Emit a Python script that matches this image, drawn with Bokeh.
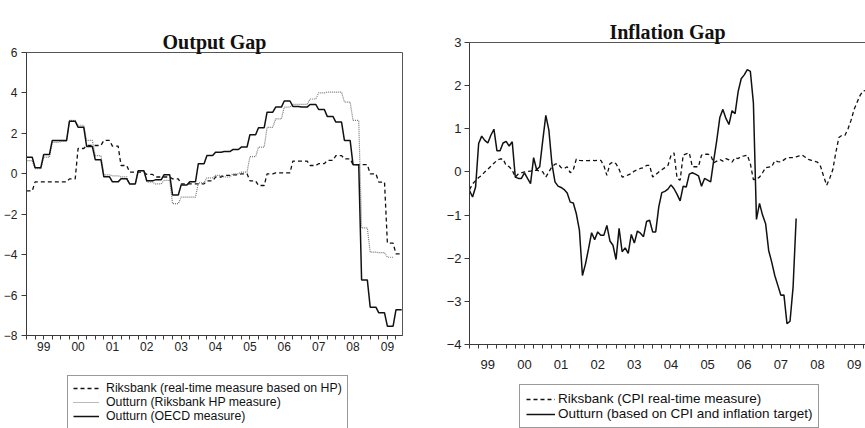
from bokeh.plotting import figure
from bokeh.models import FixedTicker, Legend, LegendItem, LinearAxis, Range1d, Title
from bokeh.layouts import row, column
from bokeh.embed import file_html
from bokeh.resources import INLINE

# ---------------- data ----------------
years = list(range(1999, 2010))
year_labels = ["99", "00", "01", "02", "03", "04", "05", "06", "07", "08", "09"]

# Output gap, quarterly values from 1999Q1 (monthly observations, constant within quarter)
og_start = 1999
og_riksbank_rt = [-0.85, -0.4, -0.4, -0.4, -0.4, -0.25, 1.25, 1.4, 1.4, 1.65, 1.37, 0.41,
                  0.08, 0.08, -0.03, -0.16, -0.16, -0.25, -0.5, -0.5, -0.5, -0.35, -0.16, -0.08,
                  -0.05, 0.0, -0.35, -0.58, 0.0, 0.05, 0.05, 0.63, 0.63, 0.41, 0.5, 0.66,
                  0.9, 0.74, 0.45, 0.45, 0.0, -0.41, -3.43, -3.96]
og_riksbank_hp = [0.65, 0.25, 0.82, 1.55, 1.6, 2.64, 2.4, 1.65, 0.9, -0.05, -0.1, -0.15,
                  -0.5, 0.16, -0.41, -0.5, -0.33, -1.48, -1.15, -1.15, -0.45, -0.2, -0.08, -0.16,
                  0.0, 0.08, 0.85, 1.32, 2.3, 2.72, 3.3, 3.43, 3.43, 3.7, 4.0, 4.04,
                  4.04, 3.55, 2.64, -2.68, -3.88, -3.9, -4.13]
og_oecd = [0.82, 0.3, 0.95, 1.65, 1.65, 2.6, 2.3, 1.35, 0.7, -0.15, -0.4, -0.25,
           -0.5, 0.15, -0.35, -0.3, -0.05, -1.05, -0.55, -0.4, 0.5, 0.9, 1.07, 1.1,
           1.2, 1.32, 1.93, 2.28, 3.05, 3.3, 3.6, 3.33, 3.3, 3.43, 3.18, 2.84,
           2.56, 1.65, 0.45, -5.25, -6.6, -6.88, -7.54, -6.73]

# Inflation gap, monthly values from 1999M1
inf_start = 1999
inf_riksbank_cpi = [-0.41, -0.28, -0.2, -0.13, -0.08, 0.0, 0.06, 0.13, 0.2, 0.27, 0.3, 0.3,
                    0.15, 0.12, 0.04, -0.12, -0.05, -0.02, 0.0, 0.01, 0.02, 0.03, 0.04, 0.02,
                    0.0, -0.12, 0.0, 0.12, 0.18, 0.19, 0.1, 0.08, 0.12, -0.02, 0.05, 0.3,
                    0.27, 0.26, 0.26, 0.26, 0.27, 0.26, 0.27, 0.27, 0.15, -0.08, 0.19, 0.23,
                    0.19, 0.06, -0.12, -0.1, -0.07, -0.04, 0.02, 0.05, 0.08, 0.1, 0.15, 0.15,
                    -0.12, -0.06, 0.0, 0.05, 0.1, 0.15, 0.38, 0.44, -0.15, -0.19, 0.39, 0.42,
                    0.44, 0.12, 0.12, 0.12, 0.39, 0.41, 0.41, 0.39, 0.21, 0.25, 0.29, 0.25,
                    0.31, 0.28, 0.23, 0.33, 0.31, 0.36, 0.37, 0.39, 0.19, -0.18, -0.17, -0.12,
                    -0.02, 0.1, 0.11, 0.12, 0.26, 0.24, 0.23, 0.28, 0.33, 0.33, 0.33, 0.35,
                    0.37, 0.39, 0.34, 0.29, 0.27, 0.25, 0.23, 0.13, -0.1, -0.31, -0.15, 0.05,
                    0.45, 0.8, 0.85, 0.85, 1.0, 1.2, 1.45, 1.62, 1.78, 1.88, 1.89]
inf_outturn = [-0.43, -0.58, -0.35, 0.66, 0.83, 0.73, 0.67, 0.85, 0.99, 0.49, 0.49, 0.67,
               0.71, 0.6, 0.7, -0.12, -0.15, -0.15, -0.02, -0.15, -0.27, 0.33, 0.05, 0.12,
               0.73, 1.31, 0.97, 0.19, -0.23, -0.33, -0.36, -0.41, -0.49, -0.7, -0.72, -0.97,
               -1.35, -2.4, -2.13, -1.78, -1.41, -1.57, -1.39, -1.47, -1.47, -1.24, -1.6, -1.7,
               -2.03, -1.31, -1.85, -1.76, -1.89, -1.45, -1.65, -1.37, -1.42, -1.5, -1.15, -1.12,
               -1.39, -1.39, -0.81, -0.48, -0.45, -0.4, -0.3, -0.39, -0.52, -0.67, -0.33, -0.35,
               -0.05, -0.02, -0.05, -0.09, -0.33, -0.15, -0.19, -0.23, 0.27, 0.73, 1.26, 1.45,
               1.24, 1.1, 1.42, 1.35, 1.86, 2.16, 2.25, 2.37, 2.33, 1.6, -1.1, -0.73,
               -1.0, -1.2, -1.82, -2.09, -2.4, -2.63, -2.86, -2.85, -3.52, -3.46, -2.67, -1.08]

og_title = "Output Gap"
inf_title = "Inflation Gap"
og_labels = ["Riksbank (real-time measure based on HP)",
             "Outturn (Riksbank HP measure)",
             "Outturn (OECD measure)"]
inf_labels = ["Riksbank (CPI real-time measure)",
              "Outturn (based on CPI and inflation target)"]


def quarterly_to_monthly(start, vals):
    xs, ys = [], []
    for j, v in enumerate(vals):
        for m in range(3):
            xs.append(start + (3 * j + m) / 12)
            ys.append(v)
    return xs, ys


def monthly_x(start, vals):
    return [start + k / 12 for k in range(len(vals))]


AX = "#3a3a3a"
TICK_FONT = "Liberation Sans"
DASH = dict(line_color="#111111", line_width=1.3, line_dash="4 3")
DOT = dict(line_color="#777777", line_width=1.2, line_dash="1 1")
SOLID = dict(line_color="#111111", line_width=1.5)


def style_axes(p, font_size, label_standoff_x, y_standoff, y_ticks):
    mids = [y + 0.5 for y in years]
    quarters = [y + q / 4 for y in years for q in range(4)]
    xa = p.below[0]
    xa.ticker = FixedTicker(ticks=mids, minor_ticks=quarters)
    xa.major_label_overrides = {m: lab for m, lab in zip(mids, year_labels)}
    xa.major_tick_line_color = None
    xa.major_tick_out = 5
    xa.major_tick_in = 0
    xa.minor_tick_out = 4
    xa.minor_tick_in = 0
    xa.minor_tick_line_color = AX
    xa.axis_line_color = AX
    xa.major_label_standoff = label_standoff_x
    xa.major_label_text_font = TICK_FONT
    xa.major_label_text_font_size = font_size
    xa.major_label_text_color = "#222222"
    ya = p.left[0]
    ya.ticker = FixedTicker(ticks=y_ticks)
    ya.minor_tick_line_color = None
    ya.major_tick_out = 5
    ya.major_tick_in = 0
    ya.major_tick_line_color = AX
    ya.axis_line_color = AX
    ya.major_label_standoff = y_standoff
    ya.major_label_text_font = TICK_FONT
    ya.major_label_text_font_size = font_size
    ya.major_label_text_color = "#222222"
    p.xgrid.visible = False
    p.ygrid.visible = False


def spacer_axis(height, line_color=None):
    # an axis without ticks or labels, used only to reserve space (or draw a border line)
    return LinearAxis(ticker=FixedTicker(ticks=[]), major_tick_out=height, major_tick_in=0,
                      major_tick_line_color="white", minor_tick_line_color=None,
                      major_label_standoff=0, axis_line_color=line_color)


def add_title(p, text, gap, line_color=None):
    p.title.visible = False
    p.add_layout(spacer_axis(gap, line_color), "above")
    p.add_layout(Title(text=text, align="center", text_font="Liberation Serif",
                       text_font_style="bold", text_font_size="20px",
                       text_color="#111111", standoff=0), "above")


def legend_figure(width, height, styles, labels, loc, font_size, glyph_w, standoff, pad):
    lf = figure(width=width, height=height, output_backend="svg", toolbar_location=None,
                x_range=Range1d(0, 1), y_range=Range1d(0, 1),
                x_axis_type=None, y_axis_type=None,
                min_border_left=0, min_border_right=0, min_border_top=0, min_border_bottom=0)
    lf.outline_line_color = None
    lf.title.visible = False
    lf.xgrid.visible = False
    lf.ygrid.visible = False
    items = []
    for st, lab in zip(styles, labels):
        # sample line for the legend key only; lies outside the visible range
        r = lf.line([5, 6], [5, 6], **st)
        items.append(LegendItem(label=lab, renderers=[r]))
    lg = Legend(items=items, location=loc)
    lg.label_text_font = TICK_FONT
    lg.label_text_font_size = font_size
    lg.label_text_color = "#111111"
    lg.label_height = 14
    lg.glyph_height = 14
    lg.glyph_width = glyph_w
    lg.label_standoff = standoff
    lg.padding = pad
    lg.spacing = 0
    lg.margin = 0
    lg.border_line_color = "#333333"
    lg.border_line_width = 1
    lg.background_fill_color = "white"
    lg.background_fill_alpha = 1
    lf.add_layout(lg)
    return lf


# ---------------- Output gap ----------------
p1 = figure(width=432, height=370, output_backend="svg", toolbar_location=None,
            x_range=Range1d(1999, 2009.94), y_range=Range1d(-8, 6),
            min_border_left=23, min_border_right=30, min_border_top=52, min_border_bottom=35)
style_axes(p1, "12px", 1, 4, [-8, -6, -4, -2, 0, 2, 4, 6])
add_title(p1, og_title, 27)
p1.outline_line_color = "#555555"
p1.outline_line_width = 1

x_rt, y_rt = quarterly_to_monthly(og_start, og_riksbank_rt)
x_hp, y_hp = quarterly_to_monthly(og_start, og_riksbank_hp)
x_oe, y_oe = quarterly_to_monthly(og_start, og_oecd)
p1.line(x_rt, y_rt, **DASH)
p1.line(x_hp, y_hp, **DOT)
p1.line(x_oe, y_oe, **SOLID)

lf1 = legend_figure(432, 58, [DASH, DOT, SOLID], og_labels, (41, -1), "12.3px", 26, 7, 5)

# ---------------- Inflation gap ----------------
p2 = figure(width=433, height=378, output_backend="svg", toolbar_location=None,
            x_range=Range1d(1999, 2009.81), y_range=Range1d(-4, 3),
            min_border_left=37, min_border_right=0, min_border_top=42, min_border_bottom=34)
style_axes(p2, "13px", 10, 3, [-4, -3, -2, -1, 0, 1, 2, 3])
add_title(p2, inf_title, 17, "#555555")
p2.outline_line_color = None

xi1 = monthly_x(inf_start, inf_riksbank_cpi)
xi2 = monthly_x(inf_start, inf_outturn)
p2.line(xi1, inf_riksbank_cpi, **DASH)
p2.line(xi2, inf_outturn, **SOLID)

lf2 = legend_figure(433, 50, [DASH, SOLID], inf_labels, (50, 0), "13.5px", 29, 3, 6)

layout = row(column(p1, lf1, spacing=0), column(p2, lf2, spacing=0), spacing=0)
open("out.html", "w").write(file_html(layout, INLINE))
